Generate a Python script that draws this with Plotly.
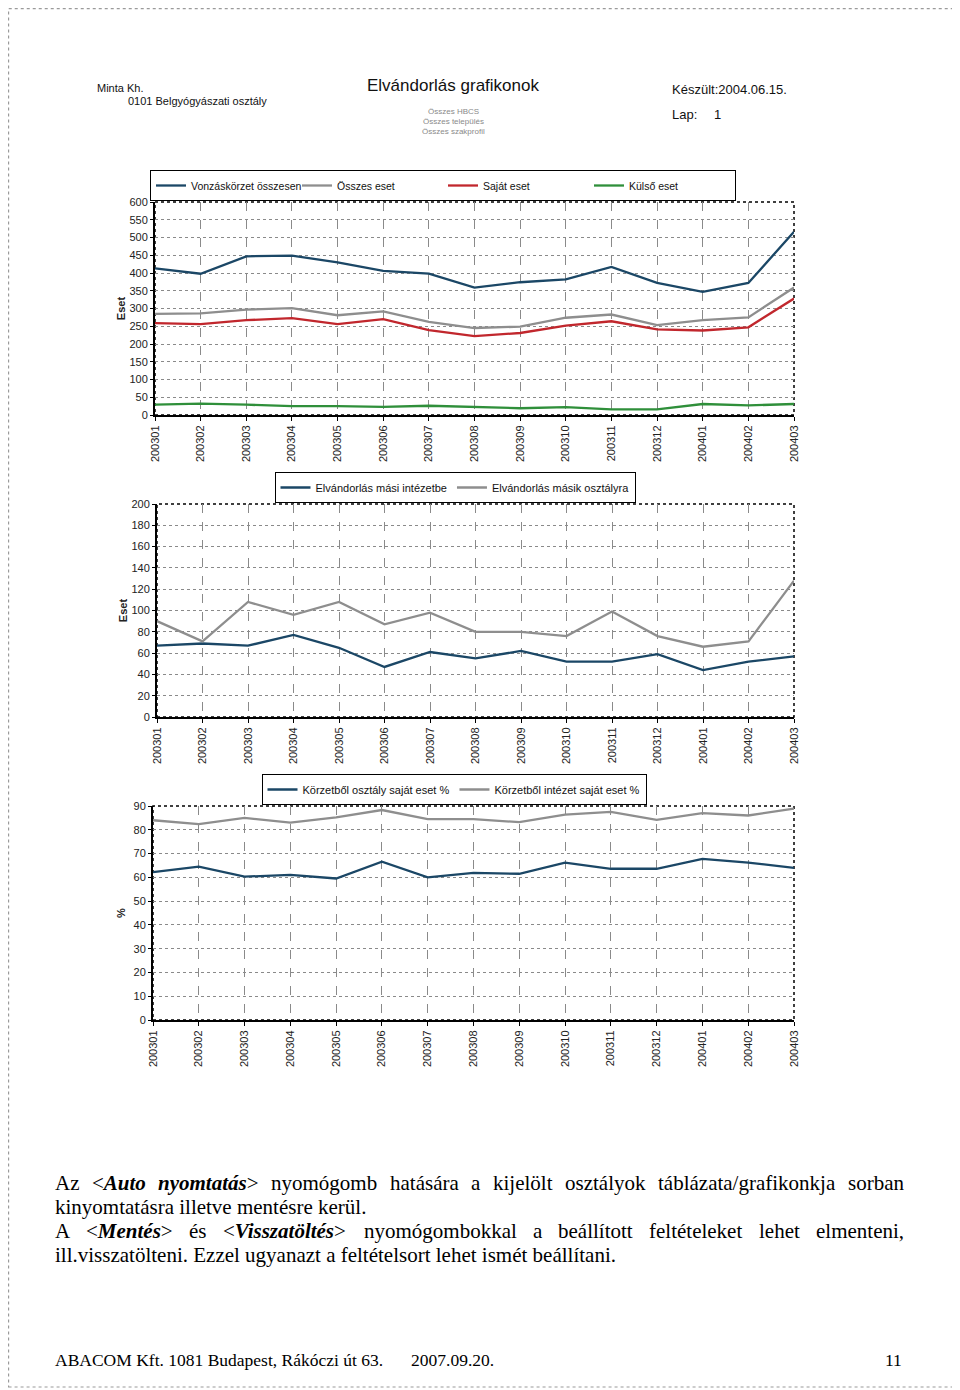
import plotly.graph_objects as go

# The page body has an 8px default margin; the figure is sized/shifted to fit it.
OFF = 8
W, H = 960 - OFF, 1390 - OFF

# ---------------- data ----------------
periods = ["200301", "200302", "200303", "200304", "200305", "200306", "200307",
           "200308", "200309", "200310", "200311", "200312", "200401", "200402", "200403"]

# chart 1 (Eset)
vonzaskorzet = [413, 398, 447, 449, 430, 406, 398, 359, 374, 382, 417, 372, 347, 372, 516]
osszes_eset = [285, 286, 297, 301, 281, 292, 262, 245, 249, 274, 283, 253, 267, 275, 359]
sajat_eset = [259, 256, 267, 273, 256, 270, 239, 222, 231, 252, 264, 241, 238, 247, 328]
kulso_eset = [29, 32, 29, 25, 25, 23, 26, 22, 19, 22, 16, 16, 31, 27, 31]

# chart 2 (Eset)
mas_intezet = [67, 69, 67, 77, 65, 47, 61, 55, 62, 52, 52, 59, 44, 52, 57]
mas_osztaly = [90, 71, 108, 96, 108, 87, 98, 80, 80, 76, 99, 76, 66, 71, 128]

# chart 3 (%)
osztaly_pct = [62.2, 64.5, 60.3, 61.0, 59.5, 66.6, 60.0, 61.9, 61.5, 66.2, 63.6, 63.6, 67.8, 66.2, 64.0]
intezet_pct = [84.0, 82.4, 85.0, 83.0, 85.2, 88.3, 84.5, 84.5, 83.2, 86.4, 87.5, 84.2, 87.0, 86.0, 88.9]

SANS = "Liberation Sans, Arial, sans-serif"
SERIF = "Liberation Serif, Times New Roman, serif"
NAVY = "#1b4766"
GREY = "#8e8e8e"
RED = "#c1272d"
GREEN = "#2f8f3a"


def px(x):
    return max(0.0, (x - OFF) / W)


def py(y):
    return min(1.0, 1 - (y - OFF) / H)


fig = go.Figure()


def add(vals, name, color, ax, legend):
    fig.add_trace(go.Scatter(
        x=periods, y=vals, name=name, mode="lines",
        line=dict(color=color, width=2.3),
        xaxis="x" + ax, yaxis="y" + ax, legend=legend, hoverinfo="skip"))


add(vonzaskorzet, "Vonzáskörzet összesen", NAVY, "", "legend")
add(osszes_eset, "Összes eset", GREY, "", "legend")
add(sajat_eset, "Saját eset", RED, "", "legend")
add(kulso_eset, "Külső eset", GREEN, "", "legend")
add(mas_intezet, "Elvándorlás mási intézetbe", NAVY, "2", "legend2")
add(mas_osztaly, "Elvándorlás másik osztályra", GREY, "2", "legend2")
add(osztaly_pct, "Körzetből osztály saját eset %", NAVY, "3", "legend3")
add(intezet_pct, "Körzetből intézet saját eset %", GREY, "3", "legend3")

charts = [
    dict(ax="", x0=155, x1=794, y0=202, y1=415, yr=[0, 600], dt=50, title="Eset", standoff=2),
    dict(ax="2", x0=157, x1=794, y0=504, y1=717, yr=[0, 200], dt=20, title="Eset", standoff=2),
    dict(ax="3", x0=153, x1=794, y0=806, y1=1020, yr=[0, 90], dt=10, title="%", standoff=6),
]

layout = dict(
    width=W, height=H,
    margin=dict(l=0, r=0, t=0, b=0, pad=0),
    paper_bgcolor="white", plot_bgcolor="white",
    template="none",
    font=dict(family=SANS, size=11, color="#222"),
    showlegend=True,
)

shapes = []
for c in charts:
    a = c["ax"]
    layout["xaxis" + a] = dict(
        domain=[px(c["x0"]), px(c["x1"])], anchor="y" + a,
        type="category", range=[0, len(periods) - 1],
        showgrid=True, gridcolor="#8a8a8a", griddash="dash", gridwidth=1,
        showline=True, linecolor="black", linewidth=2,
        ticks="outside", ticklen=4, tickcolor="black", tickangle=-90,
        tickfont=dict(family=SANS, size=11, color="#222"),
        zeroline=False, fixedrange=True,
    )
    layout["yaxis" + a] = dict(
        domain=[py(c["y1"]), py(c["y0"])], anchor="x" + a,
        range=c["yr"], dtick=c["dt"], tick0=0,
        showgrid=True, gridcolor="#8a8a8a", griddash="dot", gridwidth=1,
        showline=True, linecolor="black", linewidth=2,
        ticks="outside", ticklen=3, tickcolor="black",
        tickfont=dict(family=SANS, size=11, color="#222"),
        title=dict(text="<b>" + c["title"] + "</b>", standoff=c["standoff"],
                   font=dict(family=SANS, size=11, color="#222")),
        zeroline=False, fixedrange=True,
    )
    # dotted top/right frame
    shapes.append(dict(type="rect", xref="x%s domain" % a, yref="y%s domain" % a,
                       x0=0, x1=1, y0=0, y1=1, line=dict(color="black", width=1.5, dash="dot"),
                       layer="below"))

leg_common = dict(orientation="h", yanchor="bottom",
                  bordercolor="black", borderwidth=1, bgcolor="white",
                  font=dict(family=SANS, size=11, color="#111"),
                  entrywidthmode="pixels", itemclick=False, itemdoubleclick=False,
                  tracegroupgap=0, itemwidth=30)
layout["legend"] = dict(leg_common, x=px(150), xanchor="left", y=py(201), entrywidth=101,
                        font=dict(family=SANS, size=10.5, color="#111"))
layout["legend2"] = dict(leg_common, x=px(455), xanchor="center", y=py(503), entrywidth=0)
layout["legend3"] = dict(leg_common, x=px(454), xanchor="center", y=py(805), entrywidth=0)

# page border
shapes.append(dict(type="rect", xref="paper", yref="paper",
                   x0=px(3) + 0.0006, x1=px(956), y0=py(1387), y1=py(3) - 0.0005,
                   line=dict(color="#9a9a9a", width=1.2, dash="dot")))
layout["shapes"] = shapes

ann = []


def text(x, y, s, size, anchor="left", family=SANS, color="#111"):
    ann.append(dict(x=px(x), y=py(y), xref="paper", yref="paper", text=s,
                    showarrow=False, xanchor=anchor, yanchor="middle",
                    font=dict(family=family, size=size, color=color), borderpad=0))


# header
text(96, 88, "Minta Kh.", 11)
text(127, 101, "0101 Belgyógyászati osztály", 11)
text(453, 86, "Elvándorlás grafikonok", 17, "center")
text(453, 112, "Összes HBCS", 8, "center", color="#8a8a8a")
text(453, 122, "Összes település", 8, "center", color="#8a8a8a")
text(453, 132, "Összes szakprofil", 8, "center", color="#8a8a8a")
text(671, 89, "Készült:2004.06.15.", 13)
text(671, 114, "Lap:", 13)
text(713, 114, "1", 13)

# ---- body text (Times metrics for justification) ----
REG = {' ': 250, 'A': 722, 'B': 667, 'C': 667, 'D': 722, 'E': 611, 'F': 556, 'G': 722, 'H': 722,
       'I': 333, 'K': 722, 'L': 611, 'M': 889, 'N': 722, 'O': 722, 'R': 667, 'S': 556, 'T': 611,
       'V': 722, 'a': 444, 'b': 500, 'c': 444, 'd': 500, 'e': 444, 'f': 333, 'g': 500, 'h': 500,
       'i': 278, 'j': 278, 'k': 500, 'l': 278, 'm': 778, 'n': 500, 'o': 500, 'p': 500, 'q': 500,
       'r': 333, 's': 389, 't': 278, 'u': 500, 'v': 500, 'w': 722, 'x': 500, 'y': 500, 'z': 444,
       'á': 444, 'é': 444, 'í': 278, 'ó': 500, 'ö': 500, 'ő': 500, 'ú': 500, 'ü': 500, 'ű': 500,
       '<': 564, '>': 564, '/': 278, '.': 250, ',': 250}
BI = {'A': 667, 'M': 889, 'V': 667, 'a': 500, 'e': 444, 'é': 444, 'i': 278, 'l': 278, 'm': 778,
      'n': 556, 'o': 500, 'ö': 500, 's': 389, 't': 278, 'u': 556, 'y': 444, 'z': 389, 'á': 500}


def run_width(s, style, size):
    tbl = BI if style == "bi" else REG
    return sum(tbl.get(ch, 500) for ch in s) * size / 1000.0


def run_html(s, style):
    s = s.replace("<", "&lt;").replace(">", "&gt;")
    return "<b><i>" + s + "</i></b>" if style == "bi" else s


def word_parts(w):
    return [(w, "r")] if isinstance(w, str) else w


BODY = 21
LEFT, RIGHT = 54, 903

line1 = ["Az", [("<", "r"), ("Auto", "bi")], [("nyomtatás", "bi"), (">", "r")], "nyomógomb",
         "hatására", "a", "kijelölt", "osztályok", "táblázata/grafikonkja", "sorban"]
line2 = "kinyomtatásra illetve mentésre kerül."
line3 = ["A", [("<", "r"), ("Mentés", "bi"), (">", "r")], "és",
         [("<", "r"), ("Visszatöltés", "bi"), (">", "r")], "nyomógombokkal", "a",
         "beállított", "feltételeket", "lehet", "elmenteni,"]
line4 = "ill.visszatölteni. Ezzel ugyanazt a feltételsort lehet ismét beállítani."


def justified(words, y):
    widths = [sum(run_width(s, st, BODY) for s, st in word_parts(w)) for w in words]
    gap = (RIGHT - LEFT - sum(widths)) / (len(words) - 1)
    x = LEFT
    for w, wd in zip(words, widths):
        html = "".join(run_html(s, st) for s, st in word_parts(w))
        text(x, y, html, BODY, "left", SERIF, "black")
        x += wd + gap


justified(line1, 1183)
text(LEFT, 1207, line2, BODY, "left", SERIF, "black")
justified(line3, 1231)
text(LEFT, 1255, line4, BODY, "left", SERIF, "black")

# footer
text(54, 1360, "ABACOM Kft. 1081 Budapest, Rákóczi út 63.", 17.5, "left", SERIF, "black")
text(410, 1360, "2007.09.20.", 17.5, "left", SERIF, "black")
text(903, 1360, "11", 17.5, "right", SERIF, "black")

layout["annotations"] = ann
fig.update_layout(**layout)
fig.write_html("out.html")
